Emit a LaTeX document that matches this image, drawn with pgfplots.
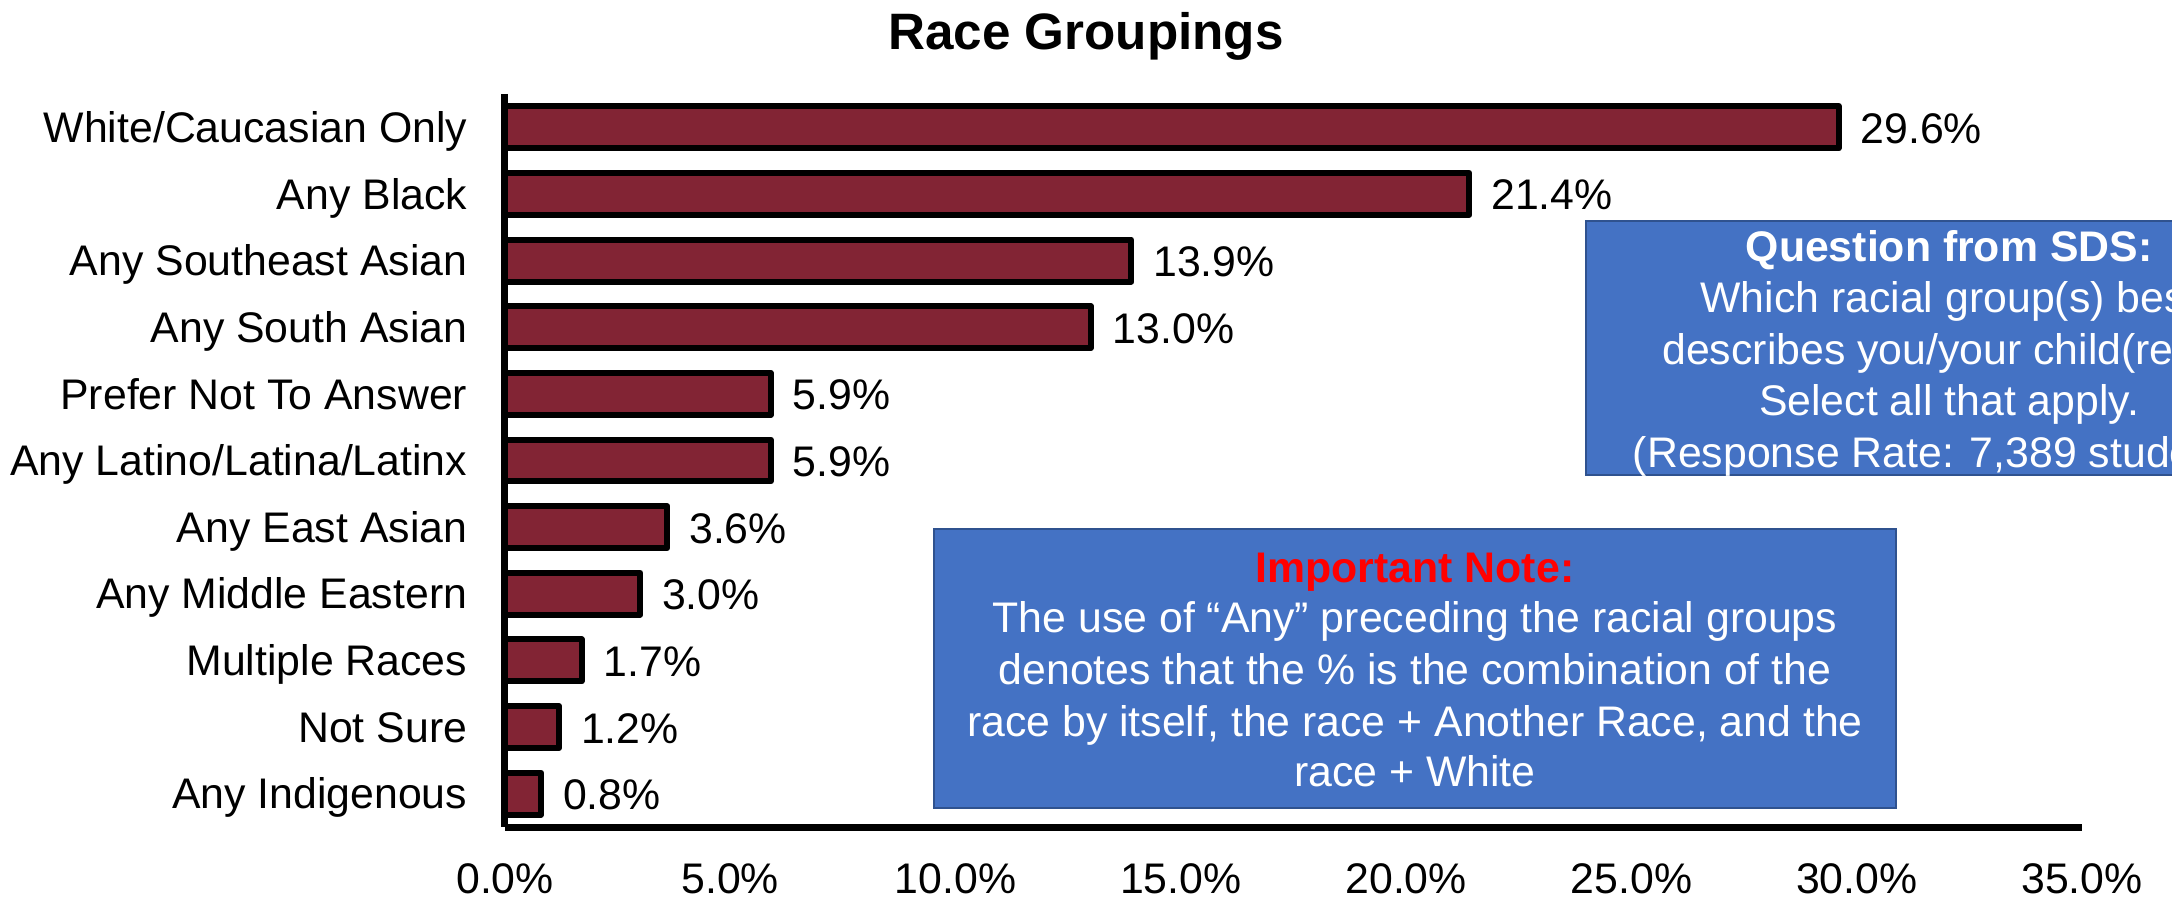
\documentclass[border=0pt]{standalone}
\usepackage{pgfplots}
\pgfplotsset{compat=1.18}
\usepackage{fontspec}
\setmainfont{Liberation Sans}
\definecolor{barred}{RGB}{130,36,52}
\definecolor{boxblue}{RGB}{68,114,196}
\definecolor{boxedge}{RGB}{47,82,143}
\definecolor{notered}{RGB}{255,0,0}
\newcommand{\fs}{\fontsize{10.7pt}{12.9pt}\selectfont}
\begin{document}
\begin{tikzpicture}
\path[use as bounding box] (0pt,0pt) rectangle (543pt,224.25pt);
\clip (0pt,0pt) rectangle (543pt,224.25pt);
\begin{axis}[
  at={(126.25pt,17.5pt)}, anchor=south west,
  scale only axis, width=394.25pt, height=183.25pt,
  xmin=0, xmax=35, ymin=-0.5, ymax=10.5,
  y dir=reverse,
  separate axis lines,
  axis x line=bottom, axis y line=left,
  axis line style={-, line width=1.75pt, black},
  xtick={0,5,...,35},
  ytick={0,...,10},
  yticklabels={White/Caucasian Only, Any Black, Any Southeast Asian, Any South Asian, Prefer Not To Answer, Any Latino/Latina/Latinx, Any East Asian, Any Middle Eastern, Multiple Races, Not Sure, Any Indigenous},
  xtick style={draw=none}, ytick style={draw=none},
  major tick length=0pt,
  /pgf/number format/assume math mode=true,
  xticklabel={\pgfmathprintnumber[fixed,fixed zerofill,precision=1]{\tick}\%},
  xticklabel style={font=\fs, anchor=base, inner sep=0pt, yshift=-16.5pt},
  yticklabel style={font=\fs, anchor=base east, inner sep=0pt, xshift=-9.25pt, yshift=-3.8pt},
  clip=false,
]
\addplot[xbar, fill=barred, draw=black, line width=1.5pt, line join=round,
  bar width=0.63, point meta=x,
  nodes near coords={\pgfmathprintnumber[fixed,fixed zerofill,precision=1]{\pgfplotspointmeta}\%},
  every node near coord/.append style={font=\fs, text=black, anchor=base west, inner sep=0pt, xshift=4.75pt, yshift=-4pt}]
coordinates {
(29.6,0) (21.4,1) (13.9,2) (13.0,3) (5.9,4) (5.9,5) (3.6,6) (3.0,7) (1.7,8) (1.2,9) (0.8,10)
};
\end{axis}
% title
\node[anchor=base, font=\fontsize{12.8pt}{15pt}\selectfont\bfseries, inner sep=0pt] at (271.5pt,211.75pt) {Race Groupings};
% box 1
\draw[fill=boxblue, draw=boxedge, line width=0.4pt] (396.5pt,105.5pt) rectangle (578pt,169pt);
\begin{scope}[every node/.style={anchor=base, inner sep=0pt, text=white, font=\fs}]
\node at (487.25pt,158.75pt) {\bfseries Question from SDS:};
\node at (487.25pt,146pt) {Which racial group(s) best};
\node at (487.25pt,133pt) {describes you/your child(ren)?};
\node at (487.25pt,120.25pt) {Select all that apply.};
\node at (487.25pt,107.25pt) {(Response Rate: 7,389 students)};
\end{scope}
% box 2
\draw[fill=boxblue, draw=boxedge, line width=0.4pt] (233.5pt,22.25pt) rectangle (474pt,92pt);
\begin{scope}[every node/.style={anchor=base, inner sep=0pt, text=white, font=\fs}]
\node[text=notered] at (353.75pt,78.5pt) {\bfseries Important Note:};
\node at (353.75pt,66pt) {The use of “Any” preceding the racial groups};
\node at (353.75pt,53pt) {denotes that the \% is the combination of the};
\node at (353.75pt,40pt) {race by itself, the race + Another Race, and the};
\node at (353.75pt,27.5pt) {race + White};
\end{scope}
\end{tikzpicture}
\end{document}
